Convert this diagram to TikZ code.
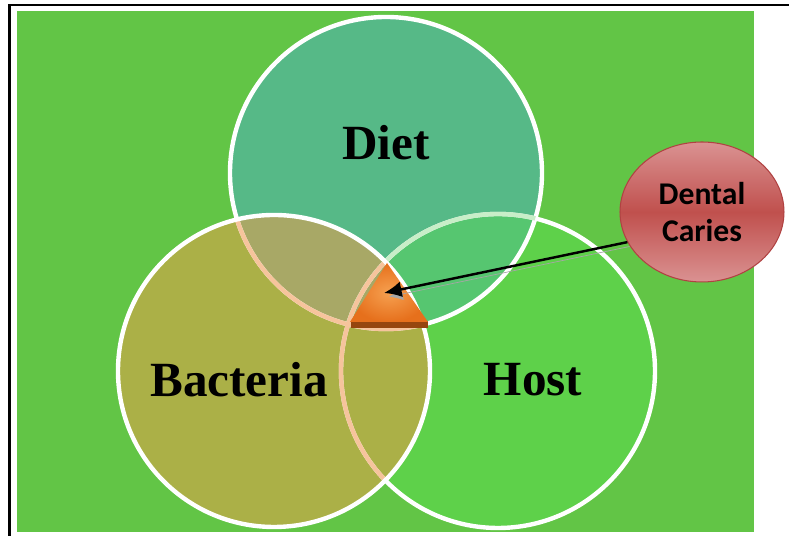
\documentclass[tikz,border=0pt]{standalone}
\usepackage{fontspec}
\setmainfont{Liberation Serif}
\newfontfamily\capfont{Carlito}
\usetikzlibrary{shapes,arrows.meta}

\definecolor{bggreen}{RGB}{98,197,70}
\definecolor{dietfill}{RGB}{86,185,135}
\definecolor{bactfill}{RGB}{171,176,71}
\definecolor{hostfill}{RGB}{94,209,74}
\definecolor{dietbact}{RGB}{168,168,102}
\definecolor{diethost}{RGB}{86,198,112}
\definecolor{peach}{RGB}{246,196,156}
\definecolor{paleline}{RGB}{200,238,200}
\definecolor{cariesdark}{RGB}{192,80,77}
\definecolor{carieslight}{RGB}{218,146,146}
\definecolor{cariesedge}{RGB}{176,66,66}
\definecolor{triorange}{RGB}{230,112,28}
\definecolor{trilight}{RGB}{246,160,80}
\definecolor{tribrown}{RGB}{150,70,15}

\begin{document}
\begin{tikzpicture}[x=0.02cm,y=0.02cm]
    % Define styles
    \tikzstyle{ring} = [draw=white, line width=2.5pt]
    \tikzstyle{inner ring} = [draw=peach, line width=2.5pt]
    \tikzstyle{factor} = [font=\bfseries\fontsize{28}{34}\selectfont]
    \tikzstyle{line} = [draw, line width=1.4pt, -{Latex[length=10pt,width=9pt]}]

    \useasboundingbox (0,0) rectangle (789,536);

    % Frame and background
    \draw[line width=1.5pt] (9.5,0) -- (9.5,531) -- (789,531);
    \fill[bggreen] (17,4) rectangle (754,525);

    % Circle centres
    \coordinate (diet) at (386,363);
    \coordinate (bact) at (274,165);
    \coordinate (host) at (498,165);

    % Fills
    \fill[hostfill] (host) circle (157);
    \fill[dietfill] (diet) circle (156);
    \fill[bactfill] (bact) circle (156);
    \begin{scope}
        \clip (diet) circle (156);
        \fill[diethost] (host) circle (157);
        \fill[dietbact] (bact) circle (156);
    \end{scope}

    % Outlines
    \path[ring] (host) circle (157);
    \path[ring] (diet) circle (156);
    \begin{scope}
        \clip (diet) circle (156);
        \path[draw=paleline, line width=2.5pt] (host) circle (157);
    \end{scope}
    \begin{scope}
        \clip (bact) circle (156);
        \path[inner ring] (diet) circle (156);
        \path[inner ring] (host) circle (157);
    \end{scope}
    \path[ring] (bact) circle (156);

    % Labels
    \node[factor] (dietlabel) at (386,393) {Diet};
    \node[factor] (bactlabel) at (239,156) {Bacteria};
    \node[factor] (hostlabel) at (533,156) {Host};

    % Triangle in the middle
    \coordinate (apex) at (387,273);
    \coordinate (baseleft) at (350,214);
    \coordinate (baseright) at (428,214);
    \fill[tribrown] (351,208) rectangle (428,215);
    \shade[inner color=trilight, outer color=triorange] (apex) -- (baseleft) -- (baseright) -- cycle;
    \coordinate (tip) at (384,243);

    % Dental caries
    \node[ellipse, draw=cariesedge, line width=0.6pt, top color=carieslight, bottom color=carieslight,
          middle color=cariesdark, minimum width=3.28cm, minimum height=2.8cm, inner sep=0pt,
          align=center, font=\capfont\bfseries\fontsize{18}{21}\selectfont] (caries) at (702,324) {Dental\\Caries};

    % Arrow
    \path[line, preaction={draw=gray!70, transform canvas={xshift=1.2pt,yshift=-2.5pt}}] (caries.202) -- (tip);
\end{tikzpicture}
\end{document}
